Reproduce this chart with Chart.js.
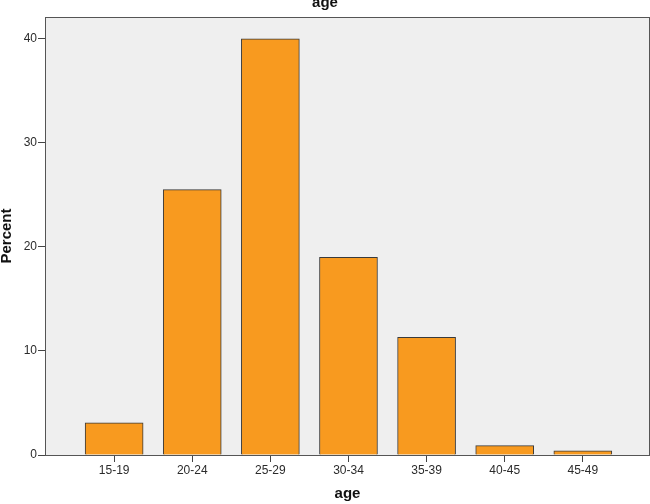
<!DOCTYPE html>
<html>
<head>
<meta charset="utf-8">
<script src="https://cdn.jsdelivr.net/npm/chart.js@4/dist/chart.umd.min.js"></script>
<style>
  html, body { margin: 0; padding: 0; background: #fff; }
  #wrap { width: 650px; height: 504px; }
</style>
</head>
<body>
<div id="wrap"><canvas id="ageChart" width="650" height="504"></canvas></div>
<script>
const categories = ['15-19', '20-24', '25-29', '30-34', '35-39', '40-45', '45-49'];
const percents = [3.1, 25.5, 40.0, 19.0, 11.3, 0.9, 0.4];
const yTicks = [0, 10, 20, 30, 40];

// gray plot background + frame like SPSS output
const plotFrame = {
    id: 'plotFrame',
    beforeDatasetsDraw(chart) {
        const a = chart.chartArea, c = chart.ctx;
        c.save();
        c.fillStyle = '#efefef';
        c.fillRect(a.left, a.top, a.right - a.left, a.bottom - a.top);
        c.restore();
    },
    afterDatasetsDraw(chart) {
        const a = chart.chartArea, c = chart.ctx;
        c.save();
        c.strokeStyle = '#555';
        c.lineWidth = 1;
        c.strokeRect(a.left + 0.5, a.top + 0.5, a.right - a.left - 1, a.bottom - a.top);
        c.restore();
    }
};

const ctx = document.getElementById('ageChart').getContext('2d');
new Chart(ctx, {
    type: 'bar',
    data: {
        datasets: [{
            label: 'Percent',
            data: percents.map((v, i) => ({ x: i, y: v })),
            backgroundColor: '#f89a1f',
            borderColor: '#3a3a3a',
            borderWidth: 1,
            barThickness: 58
        }]
    },
    options: {
        responsive: false,
        animation: false,
        layout: { padding: 0 },
        plugins: {
            legend: { display: false },
            tooltip: { enabled: false },
            title: {
                display: true,
                text: 'age',
                color: '#111',
                font: { family: 'Liberation Sans', size: 15, weight: 'bold' },
                padding: { top: -6, bottom: 5 }
            }
        },
        scales: {
            x: {
                type: 'linear',
                offset: false,
                min: -0.885,
                max: 6.86,
                afterBuildTicks: s => { s.ticks = categories.map((c, i) => ({ value: i })); },
                afterFit: s => { s.height = 49; },
                ticks: {
                    callback: v => categories[v],
                    autoSkip: false,
                    maxRotation: 0,
                    padding: 1,
                    color: '#2b2b2b',
                    font: { family: 'Liberation Sans', size: 12 }
                },
                grid: { offset: false, drawOnChartArea: false, tickLength: 7, color: '#444' },
                border: { color: '#555' },
                title: {
                    display: true,
                    text: 'age',
                    color: '#111',
                    font: { family: 'Liberation Sans', size: 15, weight: 'bold' },
                    padding: { top: 0, bottom: 1 }
                }
            },
            y: {
                min: 0,
                max: 42.1,
                afterBuildTicks: s => { s.ticks = yTicks.map(v => ({ value: v })); },
                afterFit: s => { s.width = 45; },
                ticks: {
                    padding: 1,
                    color: '#2b2b2b',
                    font: { family: 'Liberation Sans', size: 12 }
                },
                grid: { drawOnChartArea: false, tickLength: 7, color: '#444' },
                border: { color: '#555' },
                title: {
                    display: true,
                    text: 'Percent',
                    color: '#111',
                    font: { family: 'Liberation Sans', size: 15, weight: 'bold' },
                    padding: { top: -2.5, bottom: 0 }
                }
            }
        }
    },
    plugins: [plotFrame]
});
</script>
</body>
</html>
